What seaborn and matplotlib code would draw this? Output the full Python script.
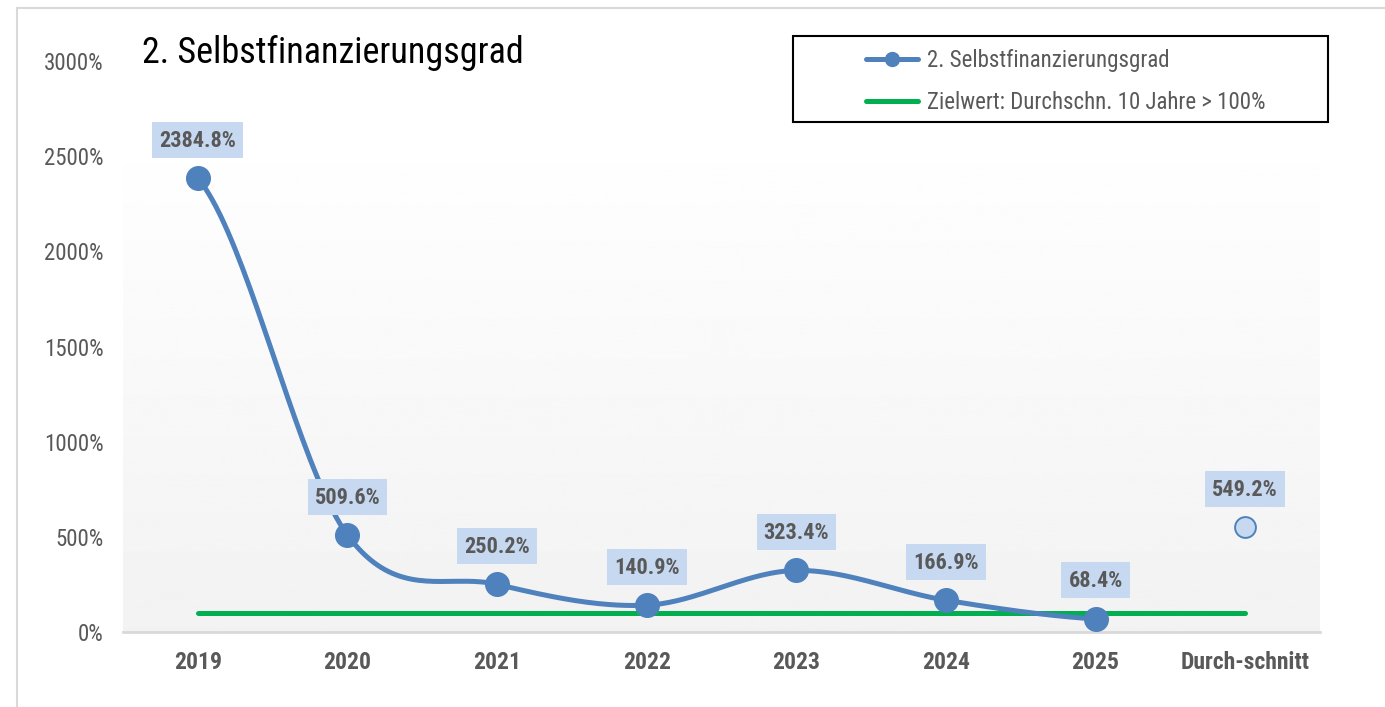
import numpy as np
import matplotlib
matplotlib.use("Agg")
import matplotlib.pyplot as plt
import seaborn as sns
from matplotlib import font_manager as fm
from matplotlib.lines import Line2D
from matplotlib.patches import Rectangle
from matplotlib.path import Path

categories = ["2019", "2020", "2021", "2022", "2023", "2024", "2025", "Durch-schnitt"]
years_values = [2384.8, 509.6, 250.2, 140.9, 323.4, 166.9, 68.4]
average_value = 549.2
target_value = 100
series_name = "2. Selbstfinanzierungsgrad"
target_name = "Zielwert: Durchschn. 10 Jahre > 100%"
y_ticks = [0, 500, 1000, 1500, 2000, 2500, 3000]

sns.set_style("white")

# pick a narrow font if one is installed
narrow = None
fonts = fm.fontManager.ttflist
for want in ["Liberation Sans Narrow", "Roboto Condensed", "Open Sans Condensed",
             "Noto Sans Condensed", "DejaVu Sans Condensed"]:
    if any(f.name == want for f in fonts):
        narrow = want
        break
if narrow is None:
    for f in fonts:
        if "Narrow" in f.name or "Condensed" in f.name:
            narrow = f.name
            break
if narrow is None:
    for f in fonts:
        if f.stretch in ("condensed", "semi-condensed", "extra-condensed"):
            narrow = f.name
            plt.rcParams["font.stretch"] = f.stretch
            break
plt.rcParams["font.family"] = ([narrow] if narrow else []) + ["DejaVu Sans"]
scale = 1.0 if narrow else 0.82

BLUE = "#4f81bd"
GREEN = "#00b050"
GREY = "#595959"
LABEL_BG = "#c6d9f0"


def smooth(y, n=40):
    # excel-like smoothed line (catmull-rom through the points)
    y = np.asarray(y, dtype=float)
    k = len(y)
    m = np.zeros(k)
    m[1:-1] = (y[2:] - y[:-2]) / 2
    m[0] = (y[1] - y[0]) / 2
    m[-1] = (y[-1] - y[-2]) / 2
    xs, ys = [], []
    for i in range(k - 1):
        t = np.linspace(0, 1, n, endpoint=(i == k - 2))
        h00 = 2 * t**3 - 3 * t**2 + 1
        h10 = t**3 - 2 * t**2 + t
        h01 = -2 * t**3 + 3 * t**2
        h11 = t**3 - t**2
        xs.append(i + t)
        ys.append(h00 * y[i] + h10 * m[i] + h01 * y[i + 1] + h11 * m[i + 1])
    return np.concatenate(xs), np.concatenate(ys)


def label_box(x0, y0, width, height, mutation_size):
    # fixed-height box, small side padding (like excel data labels)
    padx, h = 7, 36
    cy = y0 + height / 2 + 1
    l, r = x0 - padx, x0 + width + padx
    b, t = cy - h / 2, cy + h / 2
    return Path([(l, b), (r, b), (r, t), (l, t), (l, b)],
                [Path.MOVETO, Path.LINETO, Path.LINETO, Path.LINETO, Path.CLOSEPOLY])


fig = plt.figure(figsize=(13.85, 7.07), dpi=100)
ax = fig.add_axes([123 / 1385, 1 - 632 / 707, 1197 / 1385, 571 / 707])

# gradient plot area
grad = np.linspace(1.0, 0.949, 256).reshape(-1, 1)
ax.imshow(grad, cmap="gray", vmin=0, vmax=1, aspect="auto",
          extent=(-0.5, 7.5, 0, 2660), zorder=0)

pos = np.arange(len(years_values))
sx, sy = smooth(years_values)
sns.lineplot(x=sx, y=sy, ax=ax, color=BLUE, linewidth=3.6, zorder=3,
             sort=False, estimator=None)
sns.lineplot(x=np.arange(len(categories)), y=[target_value] * len(categories),
             ax=ax, color=GREEN, linewidth=3.6, zorder=2,
             solid_capstyle="round")
ax.plot(pos, years_values, "o", color=BLUE, markersize=17, zorder=4)
ax.plot([len(categories) - 1], [average_value], "o", markerfacecolor=LABEL_BG,
        markeredgecolor=BLUE, markeredgewidth=1.4, markersize=15, zorder=4)

all_vals = years_values + [average_value]
for i, v in enumerate(all_vals):
    ax.annotate(f"{v:.1f}%", (i, v), xytext=(0, 27), textcoords="offset points",
                ha="center", va="center", fontsize=16 * scale, fontweight="bold",
                color=GREY, zorder=5,
                bbox=dict(boxstyle=label_box, fc=LABEL_BG, ec="none"))

ax.set_xlim(-0.5, 7.5)
ax.set_ylim(0, 3000)
ax.set_yticks(y_ticks)
ax.set_yticklabels([f"{t}%" for t in y_ticks], fontsize=16.5 * scale, color=GREY)
ax.set_xticks(range(len(categories)))
ax.set_xticklabels(categories, fontsize=17 * scale, fontweight="bold", color=GREY)
ax.tick_params(axis="y", length=0, pad=14)
ax.tick_params(axis="x", length=0, pad=14)
for s in ["top", "right", "left"]:
    ax.spines[s].set_visible(False)
ax.spines["bottom"].set_color("#d9d9d9")
ax.spines["bottom"].set_linewidth(2)

fig.text(142 / 1385, 1 - 53 / 707, series_name, fontsize=26 * scale,
         color="black", va="center", ha="left")

# outer chart border
fig.patches.append(Rectangle((17 / 1385, -0.1), 1.2, 1 - 8 / 707 + 0.1,
                             transform=fig.transFigure, fill=False,
                             ec="#d9d9d9", lw=1.5))

# legend box
fig.patches.append(Rectangle((793 / 1385, 1 - 122 / 707), 535 / 1385, 86 / 707,
                             transform=fig.transFigure, fill=True, fc="white",
                             ec="black", lw=1.5, zorder=5))
handles = [
    Line2D([], [], color=BLUE, lw=3.6, marker="o", markersize=10),
    Line2D([], [], color=GREEN, lw=3.6),
]
leg = fig.legend(handles, [series_name, target_name], loc="upper left",
                 bbox_to_anchor=(866 / 1385, 1 - 49 / 707), frameon=False,
                 borderpad=0, borderaxespad=0,
                 fontsize=16.5 * scale, handlelength=2.27 / scale,
                 handletextpad=0.4, labelspacing=0.85 / scale, labelcolor=GREY)
leg.set_zorder(6)

fig.savefig("out.png", dpi=100)
